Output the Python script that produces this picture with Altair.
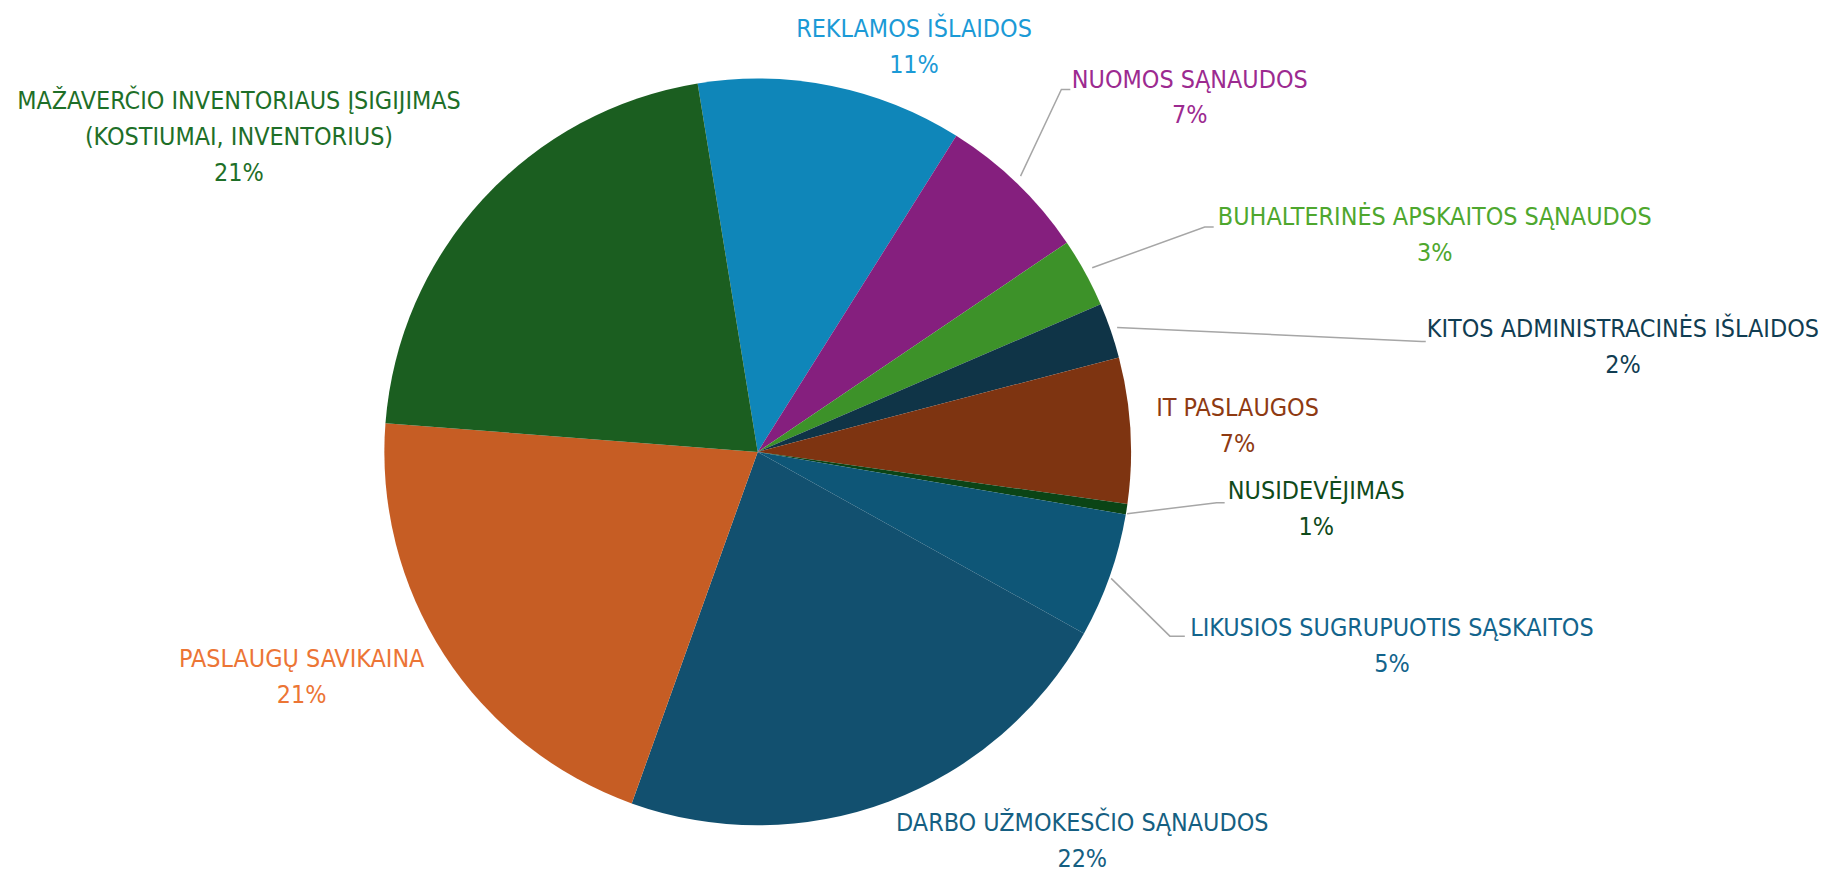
import altair as alt
import pandas as pd
import math

# ---------------- data ----------------
names = [
    "REKLAMOS IŠLAIDOS",
    "NUOMOS SĄNAUDOS",
    "BUHALTERINĖS APSKAITOS SĄNAUDOS",
    "KITOS ADMINISTRACINĖS IŠLAIDOS",
    "IT PASLAUGOS",
    "NUSIDEVĖJIMAS",
    "LIKUSIOS SUGRUPUOTIS SĄSKAITOS",
    "DARBO UŽMOKESČIO SĄNAUDOS",
    "PASLAUGŲ SAVIKAINA",
    "MAŽAVERČIO INVENTORIAUS ĮSIGIJIMAS\n(KOSTIUMAI, INVENTORIUS)",
]
shares = [11.5, 6.6, 3.0, 2.4, 6.3, 0.45, 5.4, 22.4, 20.75, 21.2]
pct_labels = ["11%", "7%", "3%", "2%", "7%", "1%", "5%", "22%", "21%", "21%"]

# ---------------- styles ----------------
slice_colors = ["#0f86b9", "#851f7e", "#3d9229", "#0f3447", "#7e3411",
                "#0b4416", "#0e5677", "#12506f", "#c65d24", "#1b5e20"]
text_colors = ["#1b9ad6", "#9c2a90", "#4ea72e", "#113d52", "#8e3a12",
               "#0f4a1a", "#13648c", "#155f82", "#ec7535", "#1e6f28"]
FONT = "Liberation Sans Narrow, DejaVu Sans Condensed, Arial Narrow, sans-serif"
FONT_SIZE = 25
LINE_STEP = 36

# ---------------- layout (page pixels) ----------------
W, H = 1825, 866
CX, CY, R = 761, 452, 375
START_DEG = -9.26
# label block anchor: centre x, first-line y
label_pos = [(918, 27), (1195, 78), (1441, 216), (1630, 329), (1243, 408),
             (1322, 491), (1398, 629), (1087, 825), (303, 660), (240, 100)]
# leader polylines (label side -> pie edge)
leaders = {
    1: [(1075, 88), (1066, 88), (1025, 175)],
    2: [(1219, 226), (1210, 226), (1097, 267)],
    3: [(1432, 341), (1428, 341), (1122, 327)],
    5: [(1230, 503), (1222, 503), (1132, 514)],
    6: [(1190, 637), (1175, 637), (1116, 579)],
}

start = math.radians(START_DEG)

pie_df = pd.DataFrame({"name": names, "share": shares, "idx": list(range(len(names)))})

rows = []
for i, (nm, pct) in enumerate(zip(names, pct_labels)):
    lx, ly = label_pos[i]
    lines = nm.split("\n") + [pct]
    for j, ln in enumerate(lines):
        rows.append({"name": nm, "line": ln, "x": lx, "y": ly + j * LINE_STEP,
                     "tcolor": text_colors[i]})
text_df = pd.DataFrame(rows)

lrows = []
for i, pts in leaders.items():
    for k, (px, py) in enumerate(pts):
        lrows.append({"name": names[i], "step": k, "x": px, "y": py})
lead_df = pd.DataFrame(lrows)

xs = alt.Scale(domain=[8, 8 + W], nice=False, zero=False)
ys = alt.Scale(domain=[8, 8 + H], nice=False, zero=False, reverse=True)

pie = alt.Chart(pie_df).mark_arc(outerRadius=R).encode(
    theta=alt.Theta("share:Q", stack=True,
                    scale=alt.Scale(range=[start, start + 2 * math.pi])),
    order=alt.Order("idx:Q"),
    color=alt.Color("name:N", scale=alt.Scale(domain=names, range=slice_colors), legend=None),
    x=alt.value(CX - 8),
    y=alt.value(CY - 8),
)

lines = alt.Chart(lead_df).mark_line(color="#a6a6a6", strokeWidth=1.5).encode(
    x=alt.X("x:Q", scale=xs, axis=None),
    y=alt.Y("y:Q", scale=ys, axis=None),
    detail="name:N",
    order=alt.Order("step:Q"),
)

texts = alt.Chart(text_df).mark_text(font=FONT, fontSize=FONT_SIZE, align="center",
                                     baseline="middle").encode(
    x=alt.X("x:Q", scale=xs, axis=None),
    y=alt.Y("y:Q", scale=ys, axis=None),
    text="line:N",
    color=alt.Color("tcolor:N", scale=None, legend=None),
)

chart = alt.layer(pie, lines, texts).resolve_scale(color="independent").properties(
    width=W, height=H, padding=0, autosize=alt.AutoSizeParams(type="none"),
    background="white",
).configure_view(stroke=None)

chart.save("out.html", embed_options={"renderer": "svg", "actions": False})
